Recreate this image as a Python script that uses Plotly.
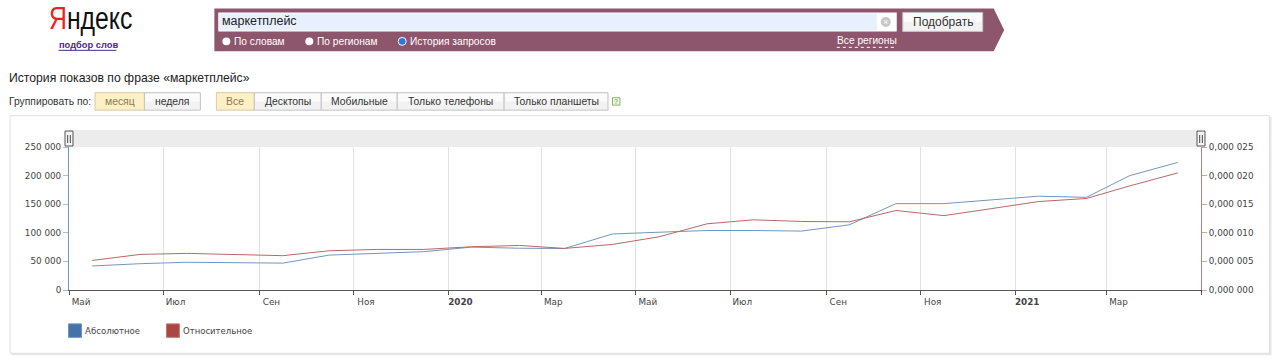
import plotly.graph_objects as go

months = ["2019-05-16","2019-06-16","2019-07-16","2019-08-16","2019-09-16","2019-10-16","2019-11-16","2019-12-16",
          "2020-01-16","2020-02-16","2020-03-16","2020-04-16","2020-05-16","2020-06-16","2020-07-16","2020-08-16",
          "2020-09-16","2020-10-16","2020-11-16","2020-12-16","2021-01-16","2021-02-16","2021-03-16","2021-04-16"]
absolute = [42000,46000,48500,47500,47000,61000,64000,67000,75000,73000,72500,98000,101000,104000,104000,103000,
            114000,151000,151000,158000,164000,162000,200000,223000]
relative = [0.00000517,0.00000622,0.00000640,0.00000622,0.00000600,0.00000686,0.00000709,0.00000709,0.00000756,0.00000779,
            0.00000727,0.00000797,0.00000930,0.00001157,0.00001227,0.00001198,0.00001192,0.00001390,0.00001300,0.00001420,
            0.00001546,0.00001600,0.00001820,0.00002047]
x_tick_dates = ["2019-05-01","2019-07-01","2019-09-01","2019-11-01","2020-01-01","2020-03-01","2020-05-01",
                "2020-07-01","2020-09-01","2020-11-01","2021-01-01","2021-03-01","2021-05-01"]
x_tick_text = ["Май","Июл","Сен","Ноя","<b>2020</b>","Мар","Май","Июл","Сен","Ноя","<b>2021</b>","Мар",""]
left_vals = [0,50000,100000,150000,200000,250000]
left_text = ["0","50 000","100 000","150 000","200 000","250 000"]
right_vals = [0,0.000005,0.00001,0.000015,0.00002,0.000025]
right_text = ["0,000 000","0,000 005","0,000 010","0,000 015","0,000 020","0,000 025"]

W, H = 1280, 364
L, R, T, B = 68.5, 1201.5, 147.0, 290.5
def px(x): return (x - L) / (R - L)
def py(y): return (B - y) / (B - T)

shapes, notes = [], []
def rect(x0, y0, x1, y1, fill, line=None, lw=1, layer="below"):
    shapes.append(dict(type="rect", xref="paper", yref="paper", x0=px(x0), x1=px(x1), y0=py(y1), y1=py(y0),
                       fillcolor=fill, line=dict(color=line or fill, width=lw if line else 0), layer=layer))
def circle(cx, cy, r, fill, line=None, layer="above"):
    shapes.append(dict(type="circle", xref="paper", yref="paper", x0=px(cx-r), x1=px(cx+r), y0=py(cy+r), y1=py(cy-r),
                       fillcolor=fill, line=dict(color=line or fill, width=1 if line else 0), layer=layer))
def hline(x0, x1, y, color, dash="solid"):
    shapes.append(dict(type="line", xref="paper", yref="paper", x0=px(x0), x1=px(x1), y0=py(y), y1=py(y),
                       line=dict(color=color, width=1, dash=dash), layer="above"))
def text(x, y, s, size=11, color="#333333", family="Liberation Sans", anchor="left"):
    notes.append(dict(xref="paper", yref="paper", x=px(x), y=py(y), text=s, showarrow=False, xanchor=anchor,
                      yanchor="middle", borderpad=0, borderwidth=0,
                      font=dict(size=size, color=color, family=family)))
def button(x0, x1, y0, y1, label, active=False, size=10.4):
    if active:
        rect(x0, y0, x1, y1, "#fdf0c4", "#d5cba8")
        color = "#8a7a55"
    else:
        rect(x0, y0, x1, y1, "#f2f2f2", "#c4c4c4")
        rect(x0+1, y0+1, x1-1, (y0+y1)/2, "#fbfbfb")
        color = "#333333"
    text((x0+x1)/2, (y0+y1)/2, label, size=size, color=color, anchor="center")

# Card and range strip
rect(11, 117, 1272, 356, "#e6e6e6")
rect(9.5, 115.5, 1270, 354, "#ffffff", "#e2e2e2")
rect(L, 130, R, T, "#ececec")
for hx in (68.5, 1201.5):
    shapes.append(dict(type="rect", xref="paper", yref="paper", x0=px(hx-4), x1=px(hx+4), y0=py(146), y1=py(131),
                       fillcolor="#f4f4f4", line=dict(color="#555555", width=1), layer="above"))
    rect(hx-2, 135, hx-0.8, 143, "#666666", layer="above")
    rect(hx+0.8, 135, hx+2, 143, "#666666", layer="above")

# Search banner
shapes.append(dict(type="path", xref="paper", yref="paper",
                   path=f"M {px(214)} {py(8)} L {px(994)} {py(8)} L {px(1004.5)} {py(29.5)} L {px(994)} {py(51)} L {px(214)} {py(51)} Z",
                   fillcolor="#8e566c", line=dict(width=0), layer="below"))
rect(218, 12, 897, 31, "#ffffff")
rect(218, 13, 877, 30, "#e8f0fe")
circle(886, 21.5, 5, "#c8c8c8")
text(886, 21.5, "×", size=9, color="#ffffff", anchor="center")
text(221.5, 21, "маркетплейс", size=12.5, color="#222222")
button(903, 983, 12, 31, "Подобрать", size=12)
for cx, lab, on in ((226, "По словам", False), (309, "По регионам", False), (402, "История запросов", True)):
    circle(cx, 41, 4, "#2a78e4" if on else "#ffffff", "#ffffff" if on else None)
    text(cx+8, 41.5, lab, size=10.2, color="#ffffff")
text(837, 40.5, "Все регионы", size=10.2, color="#ffffff")
hline(837, 897, 47, "#ffffff", "dot")

# Logo
text(48, 18.5, "<span style='color:#e8241c'>Я</span>ндекс", size=31, color="#111111", family="Liberation Sans")
text(58, 45, "<b>подбор слов</b>", size=9.3, color="#4b2a86")
hline(58, 116, 50, "#4b2a86")

# Controls
text(8.5, 77.5, "История показов по фразе «маркетплейс»", size=12.2, color="#222222")
text(8.5, 101.5, "Группировать по:", size=10.3, color="#333333")
button(94.5, 144, 92.5, 110, "месяц", True)
button(144, 200, 92.5, 110, "неделя")
for x0, x1, lab, on in ((216, 254, "Все", True), (254, 321, "Десктопы", False), (321, 397, "Мобильные", False),
                        (397, 504, "Только телефоны", False), (504, 608, "Только планшеты", False)):
    button(x0, x1, 92.5, 110, lab, on)
rect(612.5, 97.5, 620, 105, "#eef5e6", "#8db870")
text(616.3, 101.5, "?", size=7, color="#5d9a3c", anchor="center")

# Legend
rect(68, 324.5, 81, 338, "#4572a7", "#6f93bf")
text(85, 331.5, "Абсолютное", size=8.6, color="#444444", family="DejaVu Sans")
rect(166, 324.5, 179, 338, "#aa4643", "#c07a78")
text(182.5, 331.5, "Относительное", size=8.5, color="#444444", family="DejaVu Sans")

fig = go.Figure()
fig.add_trace(go.Scatter(x=months, y=absolute, mode="lines", name="Абсолютное",
                         line=dict(color="#7396bd", width=1), yaxis="y"))
fig.add_trace(go.Scatter(x=months, y=relative, mode="lines", name="Относительное",
                         line=dict(color="#b56a68", width=1), yaxis="y2"))

tick_font = dict(family="DejaVu Sans", size=8.8, color="#444444")
fig.update_layout(
    width=W, height=H, showlegend=False, paper_bgcolor="#ffffff", plot_bgcolor="rgba(0,0,0,0)",
    margin=dict(l=L, r=W-R, t=T, b=H-B, pad=0, autoexpand=False),
    shapes=shapes, annotations=notes,
    xaxis=dict(type="date", range=["2019-05-01","2021-05-01"], tickmode="array", tickvals=x_tick_dates,
               ticktext=x_tick_text, ticks="outside", ticklen=4, tickcolor="#555555", tickfont=tick_font,
               ticklabelshift=12, ticklabelstandoff=-1, showgrid=True, gridcolor="#e2e2e2", gridwidth=1,
               showline=True, linecolor="#555555", linewidth=1, zeroline=False),
    yaxis=dict(range=[0,250000], tickmode="array", tickvals=left_vals, ticktext=left_text, ticks="outside",
               ticklen=5, tickcolor="#a9bdd6", tickfont=tick_font, showgrid=False, showline=True,
               linecolor="#7396bd", linewidth=1, zeroline=False),
    yaxis2=dict(range=[0,0.000025], overlaying="y", side="right", tickmode="array", tickvals=right_vals,
                ticktext=right_text, ticks="outside", ticklen=5, tickcolor="#d0a5a4", tickfont=tick_font,
                showgrid=False, showline=True, linecolor="#bd7f7e", linewidth=1, zeroline=False),
)
post = """
document.body.style.margin='0';document.body.style.overflow='hidden';
document.querySelectorAll('.annotation-text').forEach(function(t){
  if(t.textContent==='Яндекс'){t.style.transformBox='fill-box';t.style.transformOrigin='0 50%';t.style.transform='scaleX(0.8)';}
});
"""
fig.write_html("out.html", config={"displayModeBar": False}, post_script=post)
